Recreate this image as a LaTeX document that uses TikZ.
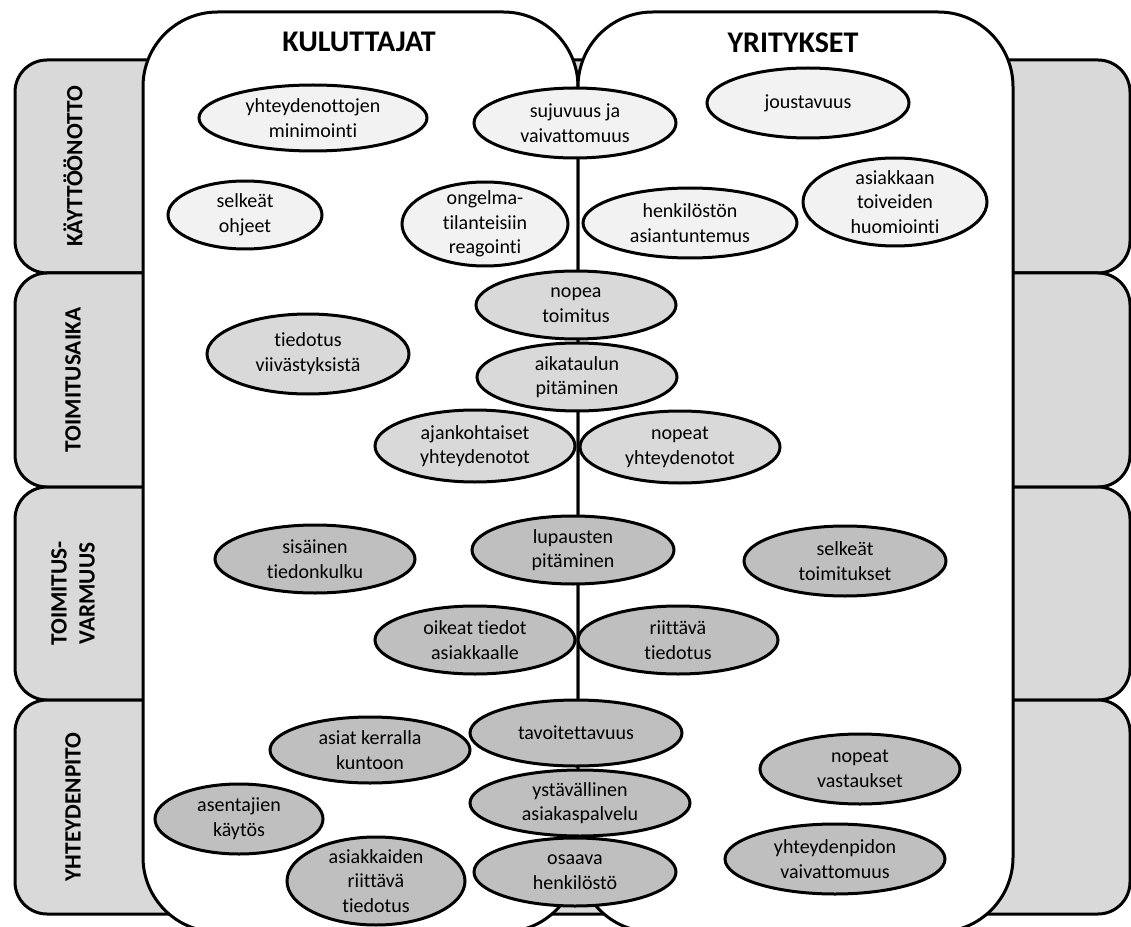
\documentclass[tikz,border=0pt]{standalone}
\usepackage{fontspec}
\setmainfont{Carlito}[Ligatures={NoCommon,NoContextual}]
\usetikzlibrary{shapes.geometric}
\definecolor{tabgray}{HTML}{D9D9D9}
\definecolor{paleg}{HTML}{F2F2F2}
\definecolor{midg}{HTML}{D9D9D9}
\definecolor{darkg}{HTML}{BFBFBF}

\begin{document}
\begin{tikzpicture}[x=0.75pt,y=-0.75pt,
  edge/.style={line width=2.25pt},
  row/.style={edge, draw=black, fill=tabgray, rounded corners=24pt},
  panel/.style={edge, draw=black, fill=white, rounded corners=56pt},
  bub/.style={ellipse, draw=black, line width=2.25pt, inner xsep=0pt, inner ysep=-4pt,
    align=center, font=\fontsize{15}{18.5}\selectfont},
  sz/.style 2 args={minimum width=#1*0.75pt, minimum height=#2*0.75pt},
  lvlA/.style={bub, fill=paleg},
  lvlB/.style={bub, fill=midg},
  lvlC/.style={bub, fill=darkg},
  head/.style={font=\fontsize{22.5}{27}\selectfont\bfseries},
  tablabel/.style={rotate=90, align=center, font=\fontsize{17.5}{21}\selectfont\bfseries}
]
\useasboundingbox (0,0) rectangle (1131,927);
\fill[white] (0,0) rectangle (1131,927);

% phase rows behind the two panels
\draw[row] (15,60) rectangle (1130,273);
\draw[row] (15,273) rectangle (1130,487);
\draw[row] (15,487) rectangle (1130,700);
\draw[row] (15,700) rectangle (1130,914);

% the two panels
\draw[panel] (143,12) rectangle (578,932);
\draw[panel] (578,12) rectangle (1013,932);

% headings
\node[head] (hk) at (359,42) {KULUTTAJAT};
\node[head] (hy) at (793,43) {YRITYKSET};

% row labels
\node[tablabel] (t1) at (73,166.5) {KÄYTTÖÖNOTTO};
\node[tablabel] (t2) at (73,380) {TOIMITUSAIKA};
\node[tablabel] (t3) at (73,593.5) {TOIMITUS-\\VARMUUS};
\node[tablabel] (t4) at (73,807) {YHTEYDENPITO};

% käyttöönotto
\node[lvlA, sz={228}{66}] (a1) at (313,118) {yhteydenottojen\\minimointi};
\node[lvlA, sz={154}{68}] (a2) at (245,215) {selkeät\\ohjeet};
\node[lvlA, sz={202}{70}] (a3) at (575,123) {sujuvuus ja\\vaivattomuus};
\node[lvlA, sz={202}{70}] (a4) at (808,103) {joustavuus};
\node[lvlA, sz={166}{84}] (a5) at (485,224) {ongelma-\\tilanteisiin\\reagointi};
\node[lvlA, sz={214}{70}] (a6) at (690,223) {henkilöstön\\asiantuntemus};
\node[lvlA, sz={184}{88}] (a7) at (895,202) {asiakkaan\\toiveiden\\huomiointi};

% toimitusaika
\node[lvlB, sz={202}{80}] (b1) at (308,354) {tiedotus\\viivästyksistä};
\node[lvlB, sz={200}{68}] (b2) at (576,305) {nopea\\toimitus};
\node[lvlB, sz={200}{68}] (b3) at (577,377) {aikataulun\\pitäminen};
\node[lvlB, sz={200}{72}] (b4) at (475,446) {ajankohtaiset\\yhteydenotot};
\node[lvlB, sz={200}{72}] (b5) at (680,447) {nopeat\\yhteydenotot};

% toimitusvarmuus
\node[lvlC, sz={202}{68}] (c1) at (573,550) {lupausten\\pitäminen};
\node[lvlC, sz={200}{68}] (c2) at (315,559) {sisäinen\\tiedonkulku};
\node[lvlC, sz={202}{70}] (c3) at (845,561) {selkeät\\toimitukset};
\node[lvlC, sz={200}{68}] (c4) at (475,640) {oikeat tiedot\\asiakkaalle};
\node[lvlC, sz={200}{68}] (c5) at (678,640) {riittävä\\tiedotus};

% yhteydenpito
\node[lvlC, sz={212}{66}] (d1) at (576,733) {tavoitettavuus};
\node[lvlC, sz={220}{66}] (d2) at (580,803) {ystävällinen\\asiakaspalvelu};
\node[lvlC, sz={202}{68}] (d3) at (575,872) {osaava\\henkilöstö};
\node[lvlC, sz={200}{66}] (d4) at (370,750) {asiat kerralla\\kuntoon};
\node[lvlC, sz={168}{70}] (d5) at (239,819) {asentajien\\käytös};
\node[lvlC, sz={178}{88}] (d6) at (376,881) {asiakkaiden\\riittävä\\tiedotus};
\node[lvlC, sz={200}{70}] (d7) at (860,769) {nopeat\\vastaukset};
\node[lvlC, sz={220}{70}] (d8) at (835,859) {yhteydenpidon\\vaivattomuus};
\end{tikzpicture}
\end{document}
